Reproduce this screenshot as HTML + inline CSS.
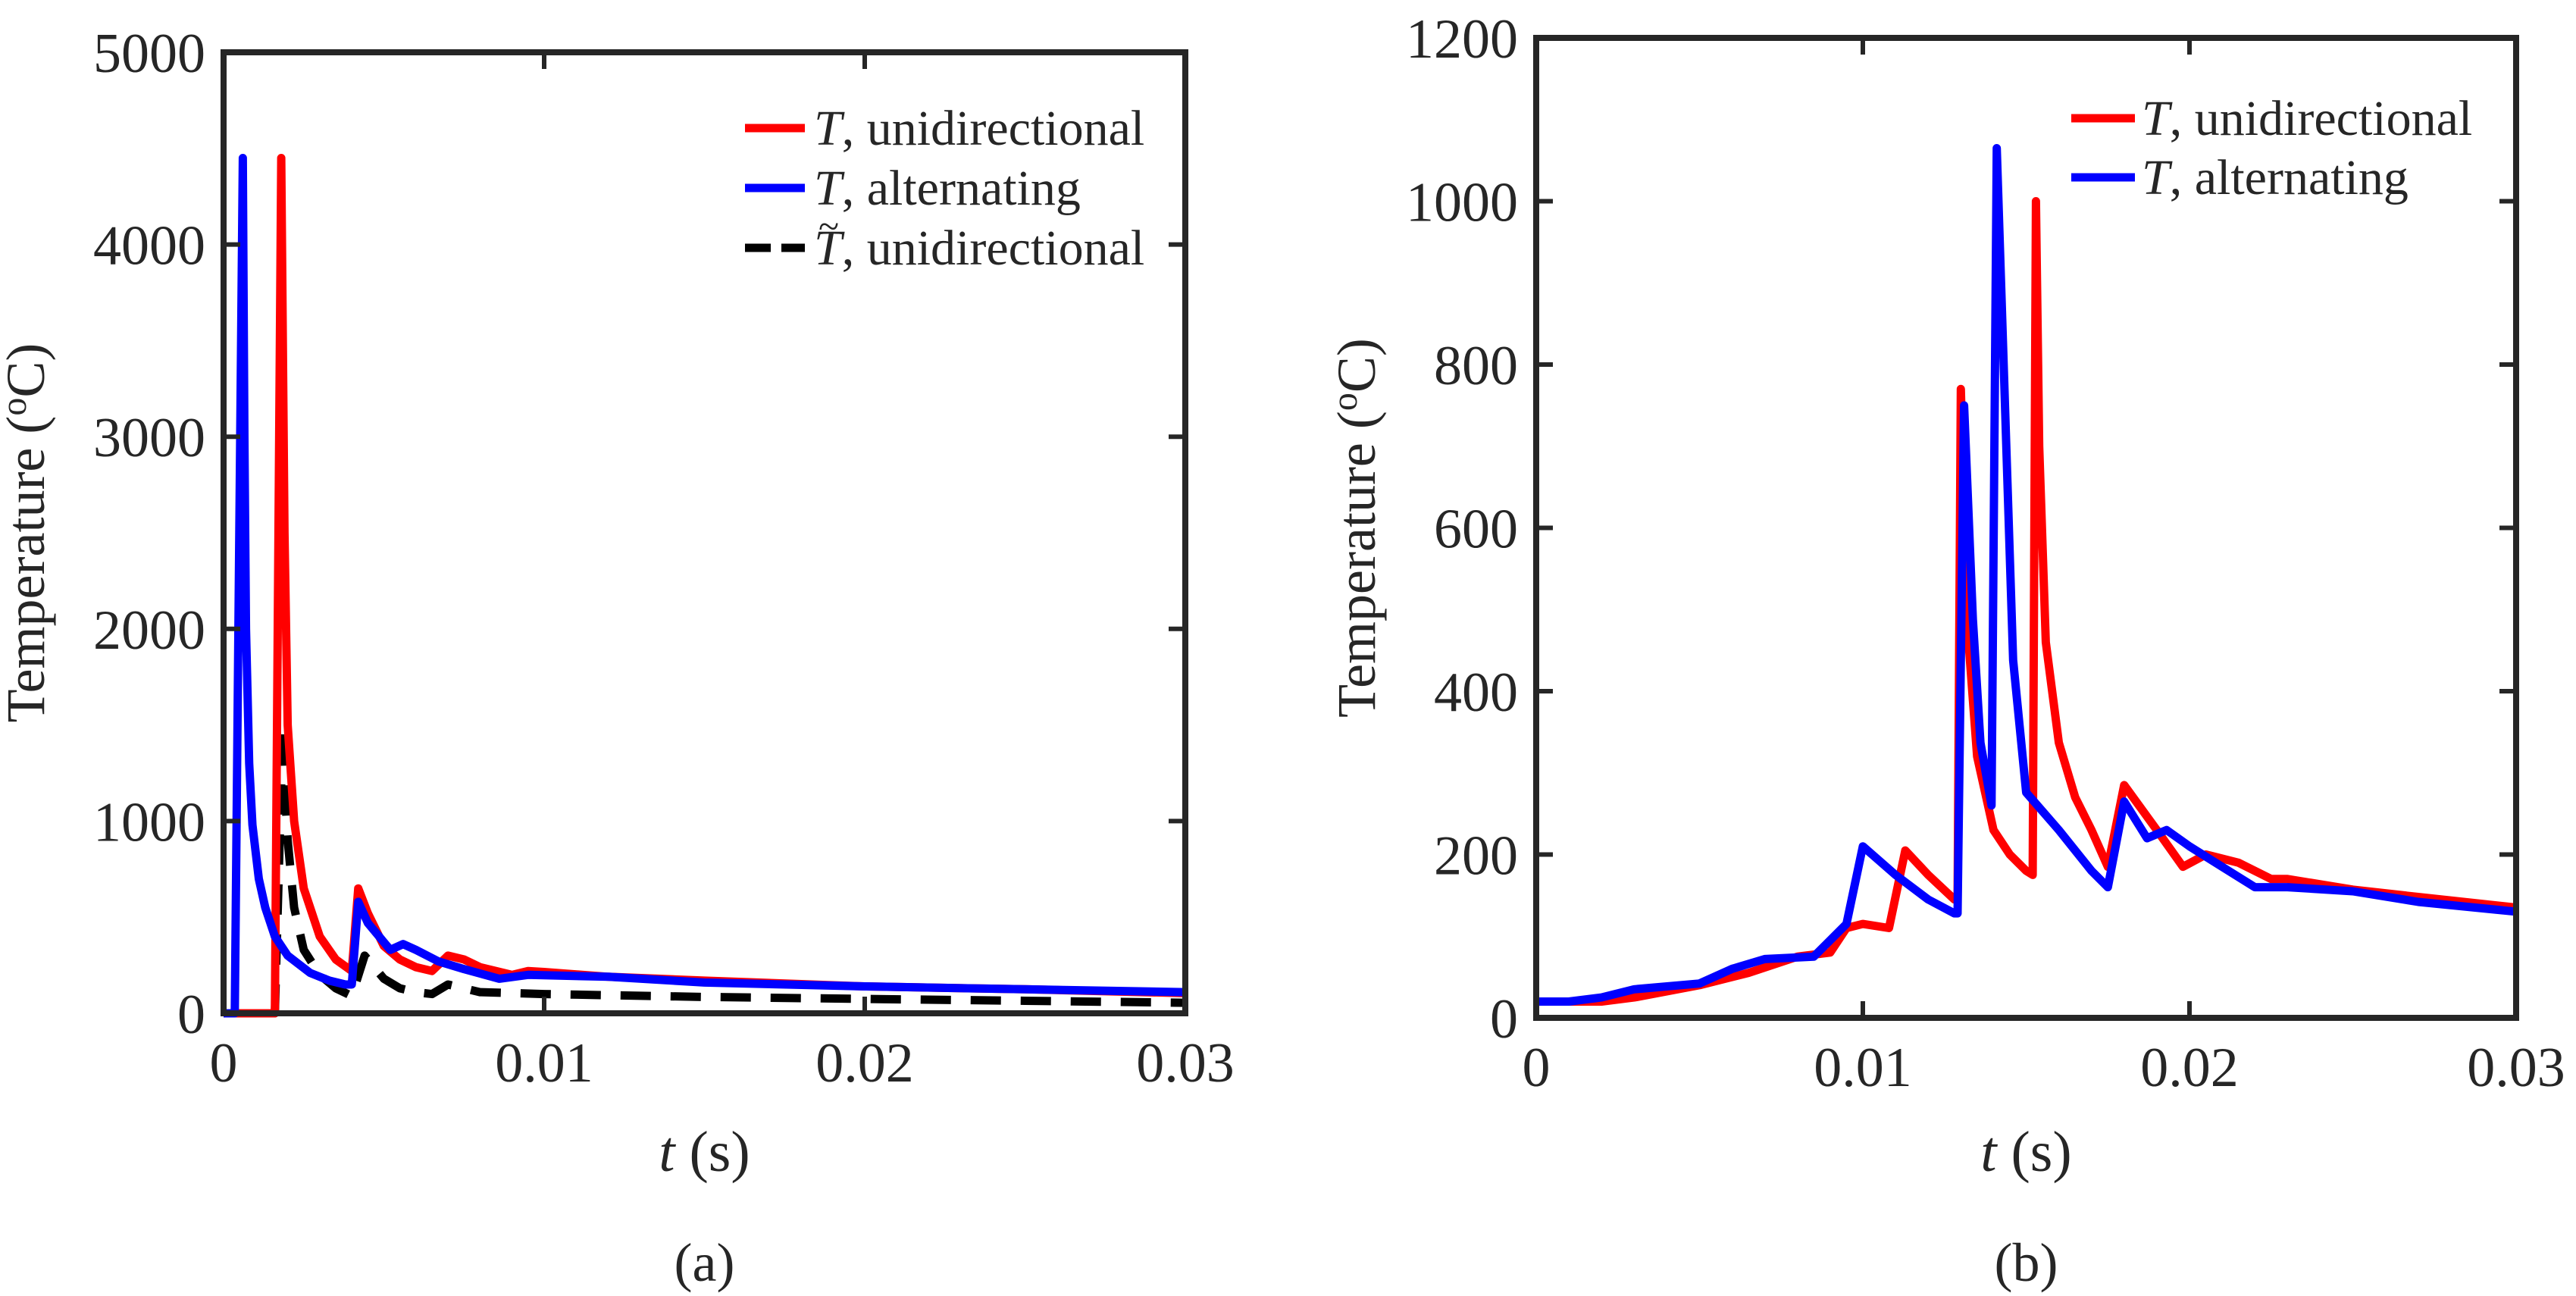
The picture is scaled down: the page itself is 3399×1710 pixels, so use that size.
<!DOCTYPE html>
<html><head><meta charset="utf-8"><style>
html,body{margin:0;padding:0;background:#fff}
svg{display:block}
text{font-family:"Liberation Serif",serif;fill:#262626}
</style></head><body>
<svg id="fig" width="3399" height="1710" viewBox="0 0 3399 1710" xmlns="http://www.w3.org/2000/svg">
<g id="pa"></g>
<g id="pb"></g>
</svg>
<script>
// Panel (a) data
const aRedT = [0,0.0016,0.0018,0.0019,0.002,0.0022,0.0025,0.003,0.0035,0.004,0.0042,0.0045,0.005,0.0055,0.006,0.0065,0.007,0.0075,0.008,0.009,0.0095,0.01,0.012,0.015,0.02,0.025,0.03];
const aRedV = [0,0,4450,2500,1500,1000,650,400,280,220,650,520,350,280,240,220,300,280,240,200,220,215,190,170,140,125,105];
const aBlueT = [0,0.00035,0.0006,0.00065,0.0007,0.0008,0.0009,0.0011,0.0013,0.0016,0.002,0.0027,0.0033,0.0038,0.004,0.0042,0.0045,0.0052,0.0056,0.006,0.0067,0.0075,0.0086,0.0095,0.012,0.015,0.02,0.025,0.03];
const aBlueV = [0,0,4450,3000,2000,1300,980,700,550,400,300,210,170,150,150,580,470,330,360,330,270,230,180,200,190,160,140,125,110];
const aBlackT = [0,0.0016,0.00185,0.0019,0.002,0.0022,0.0025,0.003,0.0035,0.004,0.0044,0.005,0.0055,0.006,0.0065,0.007,0.008,0.01,0.015,0.02,0.025,0.03];
const aBlackV = [0,0,1500,1200,900,550,330,200,130,90,300,180,130,110,100,150,110,100,85,75,65,55];
const aXTicks = [0,0.01,0.02,0.03];
const aXTickLabels = ["0","0.01","0.02","0.03"];
const aYTicks = [0,1000,2000,3000,4000,5000];
const aYTickLabels = ["0","1000","2000","3000","4000","5000"];
// Panel (b) data
const bRedT = [0,0.002,0.003,0.005,0.0065,0.008,0.009,0.0095,0.01,0.0108,0.0113,0.012,0.0128,0.0129,0.013,0.0132,0.0135,0.014,0.0145,0.015,0.0152,0.0153,0.0154,0.0156,0.016,0.0165,0.017,0.0175,0.018,0.019,0.0198,0.0205,0.0215,0.0225,0.023,0.025,0.027,0.03];
const bRedV = [20,20,25,40,55,75,80,110,115,110,205,175,145,145,770,480,320,230,200,180,175,1000,700,460,337,270,230,185,285,230,185,200,190,170,170,157,148,135];
const bBlueT = [0,0.001,0.002,0.003,0.005,0.006,0.007,0.0085,0.009,0.0095,0.01,0.011,0.012,0.0128,0.0129,0.0131,0.01337,0.0136,0.01394,0.0141,0.01436,0.0146,0.015,0.016,0.017,0.0175,0.018,0.0187,0.0193,0.02,0.021,0.022,0.023,0.025,0.027,0.03];
const bBlueV = [20,20,25,35,42,60,72,75,95,115,210,175,145,128,128,750,488,337,260,1065,740,438,276,230,180,160,265,220,230,210,185,160,160,155,142,130];
const bXTicks = [0,0.01,0.02,0.03];
const bXTickLabels = ["0","0.01","0.02","0.03"];
const bYTicks = [0,200,400,600,800,1000,1200];
const bYTickLabels = ["0","200","400","600","800","1000","1200"];

const NS="http://www.w3.org/2000/svg";
function mk(parent,tag,attrs,txt){const e=document.createElementNS(NS,tag);for(const k in attrs)e.setAttribute(k,attrs[k]);if(txt!==undefined)e.textContent=txt;parent.appendChild(e);return e;}

function panel(g,box,xmax,ymax,xt,xtl,yt,ytl,series,legend,label,legendPos,ylabX){
  const sx=v=>box.x0+(v/xmax)*(box.x1-box.x0);
  const sy=v=>box.y1-(v/ymax)*(box.y1-box.y0);
  const cp=mk(g,'clipPath',{id:'c'+label});
  mk(cp,'rect',{x:box.x0,y:box.y0,width:box.x1-box.x0,height:box.y1-box.y0});
  series.forEach(s=>{
    const d=s.t.map((t,i)=>(i?'L':'M')+sx(t).toFixed(1)+','+sy(s.v[i]).toFixed(1)).join('');
    const p=mk(g,'path',{d:d,fill:'none',stroke:s.c,'stroke-width':11,'stroke-linejoin':'round','clip-path':'url(#c'+label+')'});
    if(s.dash)p.setAttribute('stroke-dasharray','40,26');
    
    
  });
  const fr=mk(g,'rect',{x:box.x0,y:box.y0,width:box.x1-box.x0,height:box.y1-box.y0,fill:'none',stroke:'#262626','stroke-width':8});
  
  
  xt.forEach((t,i)=>{
    const x=sx(t);
    mk(g,'line',{x1:x,x2:x,y1:box.y1,y2:box.y1-22,stroke:'#262626','stroke-width':6});
    mk(g,'line',{x1:x,x2:x,y1:box.y0,y2:box.y0+22,stroke:'#262626','stroke-width':6});
    const tl=mk(g,'text',{x:x,y:box.y1+90,'font-size':74,'text-anchor':'middle'},xtl[i]);
    
    
  });
  yt.forEach((t,i)=>{
    const y=sy(t);
    mk(g,'line',{x1:box.x0,x2:box.x0+22,y1:y,y2:y,stroke:'#262626','stroke-width':6});
    mk(g,'line',{x1:box.x1,x2:box.x1-22,y1:y,y2:y,stroke:'#262626','stroke-width':6});
    const tl=mk(g,'text',{x:box.x0-24,y:y+26,'font-size':74,'text-anchor':'end'},ytl[i]);
    
    
  });
  const cx=(box.x0+box.x1)/2;
  const xl=mk(g,'text',{x:cx,y:1545,'font-size':76,'text-anchor':'middle'});
  
  
  mk(xl,'tspan',{'font-style':'italic'},'t');
  mk(xl,'tspan',{},' (s)');
  const cy=(box.y0+box.y1)/2;
  const yl=mk(g,'text',{x:0,y:0,'font-size':72,'text-anchor':'middle',transform:'translate('+ylabX+','+cy+') rotate(-90)'});
  
  
  mk(yl,'tspan',{},'Temperature (');
  mk(yl,'tspan',{'font-size':48,dy:-24},'o');
  mk(yl,'tspan',{dy:24},'C)');
  const pl=mk(g,'text',{x:cx,y:1690,'font-size':72,'text-anchor':'middle'},label);
  
  
  legend.forEach((L,i)=>{
    const y=legendPos.y+i*legendPos.dy;
    const lg=mk(g,'g',{});
    
    
    const ln=mk(lg,'line',{x1:legendPos.x1,x2:legendPos.x2,y1:y,y2:y,stroke:L.c,'stroke-width':11});
    if(L.dash)ln.setAttribute('stroke-dasharray','34,14');
    const tx=mk(lg,'text',{x:legendPos.tx,y:y+22,'font-size':66});
    mk(tx,'tspan',{'font-style':'italic'},'T');
    if(L.tilde){mk(lg,'text',{x:legendPos.tx+6,y:y-12,'font-size':50},'~');}
    mk(tx,'tspan',{},', '+L.label);
  });
}

panel(document.getElementById('pa'),{x0:295,x1:1564,y0:69,y1:1337},0.03,5000,aXTicks,aXTickLabels,aYTicks,aYTickLabels,
 [{t:aBlackT,v:aBlackV,c:'#000',dash:true,name:'series-ttilde-unidirectional'},
  {t:aRedT,v:aRedV,c:'#ff0000',name:'series-unidirectional'},
  {t:aBlueT,v:aBlueV,c:'#0000ff',name:'series-alternating'}],
 [{c:'#ff0000',label:'unidirectional'},{c:'#0000ff',label:'alternating'},{c:'#000',label:'unidirectional',dash:true,tilde:true}],
 '(a)',{x1:983,x2:1062,tx:1074,y:169,dy:79},58);
panel(document.getElementById('pb'),{x0:2027,x1:3320,y0:50,y1:1343},0.03,1200,bXTicks,bXTickLabels,bYTicks,bYTickLabels,
 [{t:bRedT,v:bRedV,c:'#ff0000',name:'series-unidirectional'},
  {t:bBlueT,v:bBlueV,c:'#0000ff',name:'series-alternating'}],
 [{c:'#ff0000',label:'unidirectional'},{c:'#0000ff',label:'alternating'}],
 '(b)',{x1:2733,x2:2817,tx:2826,y:156,dy:78},1814);
</script>
</body></html>
